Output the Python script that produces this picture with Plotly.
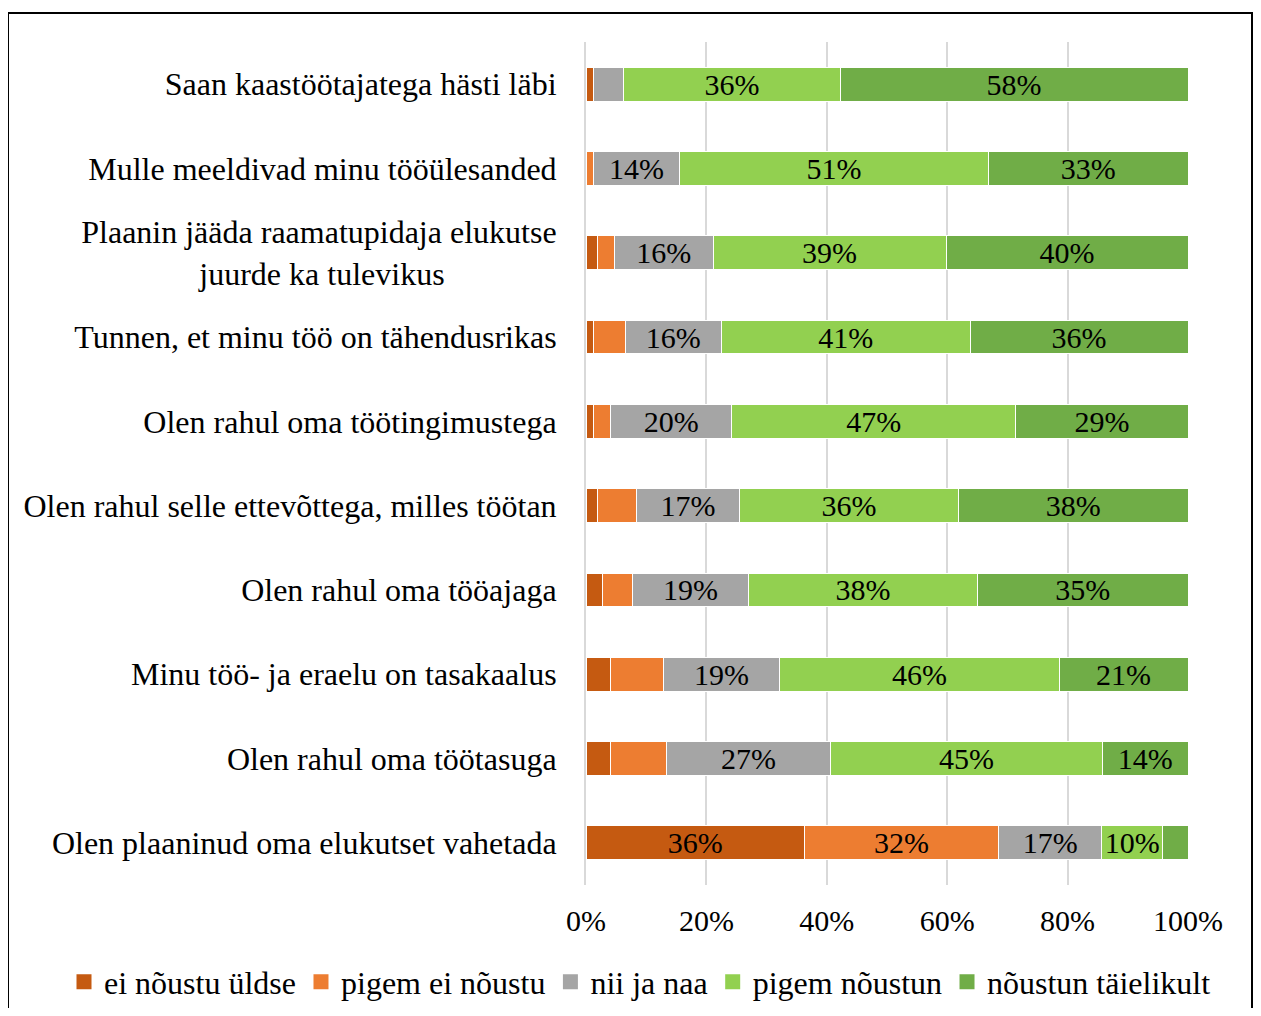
import plotly.graph_objects as go

NB = "\u00a0"
categories = [
    "Saan kaastöötajatega hästi läbi",
    "Mulle meeldivad minu tööülesanded",
    "Plaanin jääda raamatupidaja elukutse<br>juurde ka tulevikus" + NB * 14,
    "Tunnen, et minu töö on tähendusrikas",
    "Olen rahul oma töötingimustega",
    "Olen rahul selle ettevõttega, milles töötan",
    "Olen rahul oma tööajaga",
    "Minu töö- ja eraelu on tasakaalus",
    "Olen rahul oma töötasuga",
    "Olen plaaninud oma elukutset vahetada",
]

series_names = ["ei nõustu üldse", "pigem ei nõustu", "nii ja naa", "pigem nõustun", "nõustun täielikult"]

ei_noustu_uldse = [1.3, 0.0, 1.9, 1.3, 1.3, 1.9, 2.7, 4.1, 4.0, 36.3]
pigem_ei_noustu = [0.0, 1.3, 2.8, 5.2, 2.8, 6.5, 5.0, 8.7, 9.4, 32.2]
nii_ja_naa = [5.0, 14.2, 16.4, 16.0, 20.1, 17.1, 19.3, 19.4, 27.2, 17.2]
pigem_noustun = [35.9, 51.4, 38.7, 41.3, 47.2, 36.4, 38.0, 46.4, 45.2, 10.1]
noustun_taielikult = [57.8, 33.1, 40.2, 36.2, 28.6, 38.1, 35.0, 21.4, 14.2, 4.2]

tick_vals = [0, 20, 40, 60, 80, 100]
tick_labels = ["0%", "20%", "40%", "60%", "80%", "100%"]

colors = ["#C55A11", "#ED7D31", "#A5A5A5", "#92D050", "#70AD47"]
all_series = [ei_noustu_uldse, pigem_ei_noustu, nii_ja_naa, pigem_noustun, noustun_taielikult]

FONT = "Liberation Serif"

# page has an 8px body margin; figure coordinates below are relative to the figure origin
W, H = 1245, 1000
L, R, T, B = 578, 65, 34, 123
PW = W - L - R
PH = H - T - B

fig = go.Figure()
for name, vals, col in zip(series_names, all_series, colors):
    fig.add_trace(go.Bar(
        y=categories, x=vals, name=name, orientation="h",
        marker=dict(color=col, line=dict(color="white", width=1)),
        text=[f"{v:.0f}%" if v >= 9.95 else "" for v in vals],
        textposition="inside", insidetextanchor="middle", textangle=0,
        constraintext="none",
        textfont=dict(family=FONT, size=30, color="black"),
        hoverinfo="skip", showlegend=False,
    ))

# legend entries with larger square swatches
for name, col in zip(series_names, colors):
    fig.add_trace(go.Scatter(
        x=[None], y=[None], mode="markers", name=name,
        marker=dict(symbol="square", size=15, color=col),
        hoverinfo="skip", showlegend=True,
    ))

fig.update_layout(
    barmode="stack",
    bargap=0.6,
    width=W, height=H,
    paper_bgcolor="white", plot_bgcolor="white",
    margin=dict(l=L, r=R, t=T, b=B, autoexpand=False),
    font=dict(family=FONT, size=30, color="black"),
    xaxis=dict(range=[0, 100], tickvals=tick_vals, ticktext=tick_labels,
               showgrid=True, gridcolor="#D9D9D9", gridwidth=2, zeroline=False,
               showline=False, ticks="", tickfont=dict(size=30), ticklabelstandoff=15,
               automargin=False),
    yaxis=dict(categoryorder="array", categoryarray=categories, autorange="reversed",
               ticks="", showline=True, linecolor="#D9D9D9", linewidth=2,
               tickfont=dict(size=32), ticklabelstandoff=21, automargin=False),
    legend=dict(orientation="h", x=(56 - L) / PW, xanchor="left", y=-0.115, yanchor="middle",
                font=dict(size=32), traceorder="normal", itemwidth=30,
                bgcolor="rgba(0,0,0,0)"),
    showlegend=True,
    shapes=[dict(type="rect", xref="paper", yref="paper",
                 x0=(0 - L) / PW, x1=(1244 - L) / PW,
                 y0=(T + PH - 1150) / PH, y1=(T + PH - 5) / PH,
                 line=dict(color="black", width=2), fillcolor="rgba(0,0,0,0)", layer="below")],
)

fig.write_html("out.html")
